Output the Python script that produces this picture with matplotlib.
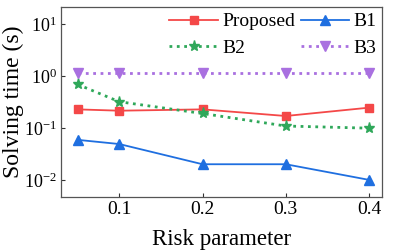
import matplotlib
matplotlib.use("Agg")
import matplotlib.pyplot as plt

risk = [0.05, 0.1, 0.2, 0.3, 0.4]
proposed = [0.228, 0.215, 0.228, 0.170, 0.246]
b1 = [0.059, 0.049, 0.020, 0.020, 0.010]
b2 = [0.69, 0.32, 0.19, 0.109, 0.099]
b3 = [1.12, 1.12, 1.12, 1.12, 1.12]
xticks = [0.1, 0.2, 0.3, 0.4]

plt.rcParams['font.family'] = ['Liberation Serif', 'DejaVu Serif']
plt.rcParams['mathtext.fontset'] = 'custom'
plt.rcParams['mathtext.rm'] = 'Liberation Serif'
plt.rcParams['mathtext.it'] = 'Liberation Serif:italic'

fig = plt.figure(figsize=(4.07, 2.52), dpi=100)
ax = fig.add_axes([61/407, 1-197/252, (382-61)/407, (197-7)/252])

l1, = ax.plot(risk, proposed, color='#f44848', marker='s', markersize=5.5, lw=1.3, label='Proposed')
l2, = ax.plot(risk, b1, color='#1f6fe0', marker='^', markersize=7, lw=1.3, label='B1')
l3, = ax.plot(risk, b2, color='#2fa85a', marker='*', markersize=8, lw=2, ls=':', label='B2')
l4, = ax.plot(risk, b3, color='#a970e0', marker='v', markersize=7, lw=2, ls=':', label='B3')

ax.set_yscale('log')
ax.set_ylim(10**-2.33, 10**1.33)
ax.set_xlim(0.030, 0.4156)
ax.set_xticks(xticks)
ax.set_xticklabels([str(t) for t in xticks])
ax.minorticks_off()
ax.tick_params(direction='in', length=3, width=0.8, colors='#333333',
               labelcolor='black', pad=3)
ax.tick_params(axis='x', labelsize=14)
ax.tick_params(axis='y', labelsize=13)
for s in ax.spines.values():
    s.set_color('#555555')
    s.set_linewidth(0.9)
ax.set_xlabel('Risk parameter', fontsize=16.5)
ax.set_ylabel('Solving time (s)', fontsize=17)
ax.xaxis.set_label_coords(0.5, -0.17, transform=ax.transAxes)
ax.yaxis.set_label_coords(-0.115, 0.5, transform=ax.transAxes)
ax.xaxis.label.set_va('top')
ax.legend([l1, l3, l2, l4], ['Proposed', 'B2', 'B1', 'B3'], ncol=2, loc='upper right',
          frameon=False, fontsize=14, handlelength=2.5,
          columnspacing=0.3, handletextpad=0.2, labelspacing=0.45, borderaxespad=0.05,
          borderpad=0.25)

fig.savefig('out.png', dpi=100)
